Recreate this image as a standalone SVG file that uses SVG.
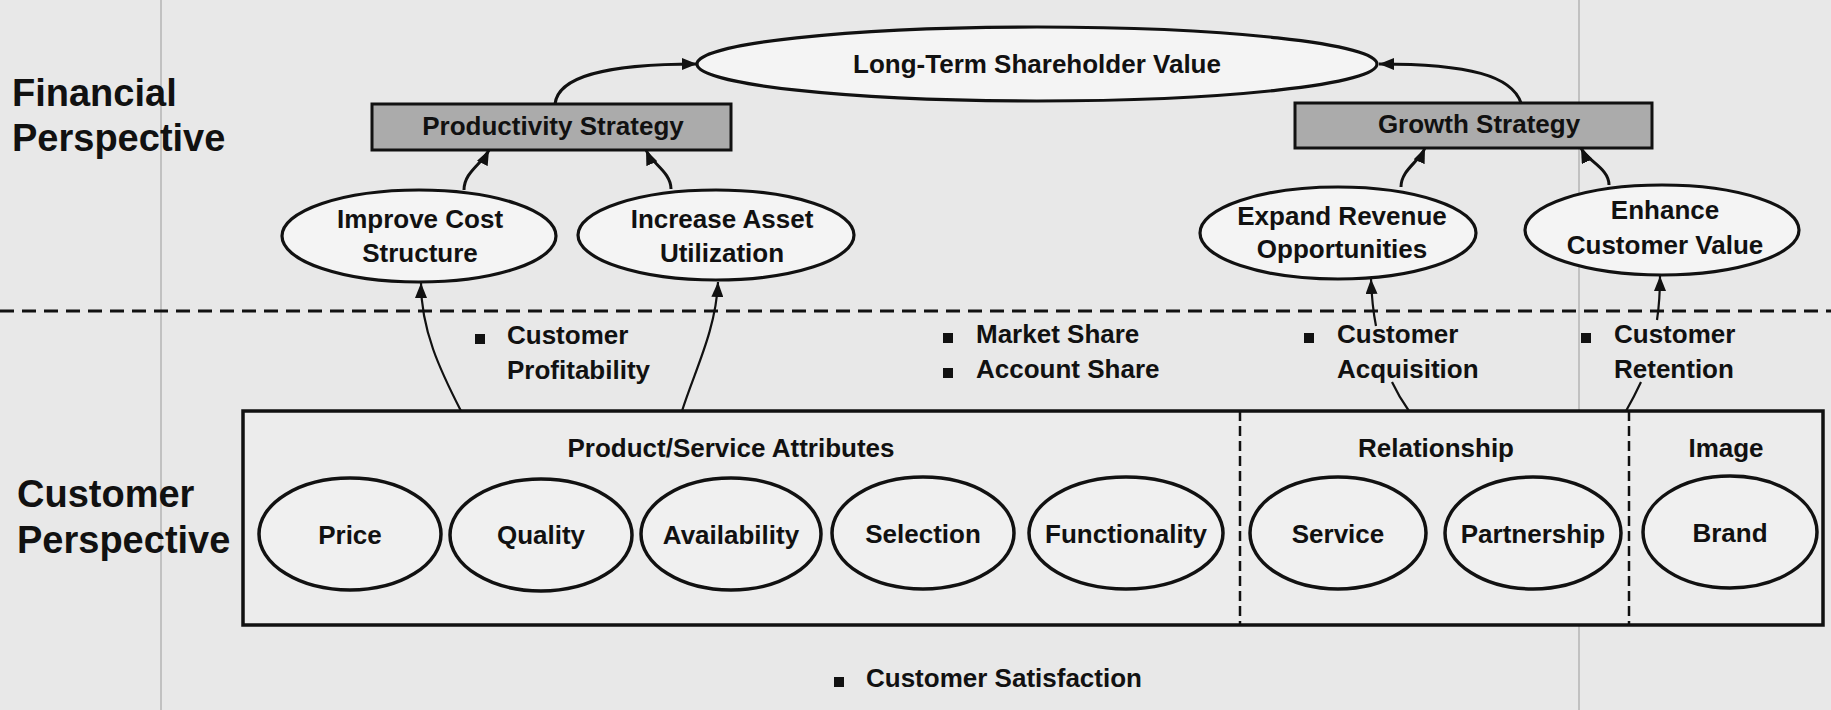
<svg xmlns="http://www.w3.org/2000/svg" width="1831" height="710" viewBox="0 0 1831 710">
<style>
.t{font-family:"Liberation Sans",Arial,sans-serif;font-weight:bold;fill:#111}
.lbl{font-size:26px}
.c{text-anchor:middle}
.big{font-size:38px}
.ell{fill:#f4f4f4;stroke:#111;stroke-width:3.2}
.inner{fill:#f0f0f0;stroke:#111;stroke-width:3.5}
.gbox{fill:#ababab;stroke:#111;stroke-width:3}
.con{fill:none;stroke:#111;stroke-width:3}
.con2{fill:none;stroke:#111;stroke-width:2.2}
.bul{fill:#111}
</style>
<defs>
<marker id="ah" markerWidth="16" markerHeight="12" refX="15" refY="6" orient="auto" markerUnits="userSpaceOnUse">
<path d="M0,0 L15,6 L0,12 z" fill="#111"/>
</marker>
</defs>
<rect x="0" y="0" width="1831" height="710" fill="#e8e8e8"/>
<g id="page-marks" stroke="#b4b4b4" stroke-width="1.5">
<line x1="161" y1="0" x2="161" y2="710"/>
<line x1="1579" y1="0" x2="1579" y2="710"/>
</g>
<g id="perspective-divider">
<line x1="0" y1="311" x2="1831" y2="311" stroke="#111" stroke-width="3" stroke-dasharray="14 8"/>
</g>
<g id="perspective-labels">
<text class="t big" x="12" y="106">Financial</text>
<text class="t big" x="12" y="151">Perspective</text>
<text class="t big" x="17" y="507">Customer</text>
<text class="t big" x="17" y="553">Perspective</text>
</g>
<g id="customer-box">
<rect x="243" y="411" width="1580" height="214" fill="#ececec" stroke="#111" stroke-width="3.5"/>
<line x1="1240" y1="411" x2="1240" y2="625" stroke="#111" stroke-width="2.5" stroke-dasharray="10 5"/>
<line x1="1629" y1="411" x2="1629" y2="625" stroke="#111" stroke-width="2.5" stroke-dasharray="10 5"/>
<text class="t lbl c" x="731" y="457">Product/Service Attributes</text>
<text class="t lbl c" x="1436" y="457">Relationship</text>
<text class="t lbl c" x="1726" y="457">Image</text>
</g>
<g id="price"><ellipse class="inner" cx="350" cy="534" rx="91" ry="56"/><text class="t lbl c" x="350" y="544">Price</text></g>
<g id="quality"><ellipse class="inner" cx="541" cy="535" rx="91" ry="56"/><text class="t lbl c" x="541" y="544">Quality</text></g>
<g id="availability"><ellipse class="inner" cx="731" cy="534" rx="90" ry="56"/><text class="t lbl c" x="731" y="544">Availability</text></g>
<g id="selection"><ellipse class="inner" cx="923" cy="533" rx="91" ry="56"/><text class="t lbl c" x="923" y="543">Selection</text></g>
<g id="functionality"><ellipse class="inner" cx="1126" cy="533" rx="97" ry="56"/><text class="t lbl c" x="1126" y="543">Functionality</text></g>
<g id="service"><ellipse class="inner" cx="1338" cy="533" rx="88" ry="56"/><text class="t lbl c" x="1338" y="543">Service</text></g>
<g id="partnership"><ellipse class="inner" cx="1533" cy="533" rx="88" ry="56"/><text class="t lbl c" x="1533" y="543">Partnership</text></g>
<g id="brand"><ellipse class="inner" cx="1730" cy="532" rx="87" ry="56"/><text class="t lbl c" x="1730" y="542">Brand</text></g>
<g id="long-term-shareholder-value"><ellipse class="ell" cx="1037" cy="64" rx="340" ry="37"/><text class="t lbl c" x="1037" y="73">Long-Term Shareholder Value</text></g>
<g id="productivity-strategy"><rect class="gbox" x="372" y="104" width="359" height="46"/><text class="t lbl c" x="553" y="135">Productivity Strategy</text></g>
<g id="growth-strategy"><rect class="gbox" x="1295" y="103" width="357" height="45"/><text class="t lbl c" x="1479" y="133">Growth Strategy</text></g>
<g id="improve-cost-structure"><ellipse class="ell" cx="419" cy="236" rx="137" ry="46"/><text class="t lbl c" x="420" y="228">Improve Cost</text><text class="t lbl c" x="420" y="262">Structure</text></g>
<g id="increase-asset-utilization"><ellipse class="ell" cx="716" cy="235" rx="138" ry="45"/><text class="t lbl c" x="722" y="228">Increase Asset</text><text class="t lbl c" x="722" y="262">Utilization</text></g>
<g id="expand-revenue-opportunities"><ellipse class="ell" cx="1338" cy="233" rx="138" ry="46"/><text class="t lbl c" x="1342" y="225">Expand Revenue</text><text class="t lbl c" x="1342" y="258">Opportunities</text></g>
<g id="enhance-customer-value"><ellipse class="ell" cx="1662" cy="230" rx="137" ry="45"/><text class="t lbl c" x="1665" y="219">Enhance</text><text class="t lbl c" x="1665" y="254">Customer Value</text></g>
<g id="measures">
<rect class="bul" x="475" y="334" width="10" height="10"/>
<text class="t lbl" x="507" y="344">Customer</text>
<text class="t lbl" x="507" y="379">Profitability</text>
<rect class="bul" x="943" y="333" width="10" height="10"/>
<text class="t lbl" x="976" y="343">Market Share</text>
<rect class="bul" x="943" y="368" width="10" height="10"/>
<text class="t lbl" x="976" y="378">Account Share</text>
<rect class="bul" x="1304" y="333" width="10" height="10"/>
<text class="t lbl" x="1337" y="343">Customer</text>
<text class="t lbl" x="1337" y="378">Acquisition</text>
<rect class="bul" x="1581" y="333" width="10" height="10"/>
<text class="t lbl" x="1614" y="343">Customer</text>
<text class="t lbl" x="1614" y="378">Retention</text>
<rect class="bul" x="834" y="677" width="10" height="10"/>
<text class="t lbl" x="866" y="687">Customer Satisfaction</text>
</g>
<g id="connectors">
<path class="con" d="M555 104 C558 78 600 64 697 64" marker-end="url(#ah)"/>
<path class="con" d="M1521 103 C1512 76 1470 64 1379 64" marker-end="url(#ah)"/>
<path class="con" d="M464 190 C464 172 482 164 489 150" marker-end="url(#ah)"/>
<path class="con" d="M671 189 C671 172 652 164 646 150" marker-end="url(#ah)"/>
<path class="con" d="M1401 187 C1401 170 1419 162 1425 148" marker-end="url(#ah)"/>
<path class="con" d="M1609 185 C1609 168 1587 161 1581 148" marker-end="url(#ah)"/>
<path class="con2" d="M461 411 C440 370 421 330 421 283" marker-end="url(#ah)"/>
<path class="con2" d="M682 411 C695 370 716 330 718 282" marker-end="url(#ah)"/>
<path class="con2" d="M1409 411 Q1399 397 1392 382"/>
<path class="con2" d="M1376 326 Q1372 306 1371 279" marker-end="url(#ah)"/>
<path class="con2" d="M1626 411 Q1634 397 1641 382"/>
<path class="con2" d="M1657 320 Q1660 300 1660 276" marker-end="url(#ah)"/>
</g>
</svg>
